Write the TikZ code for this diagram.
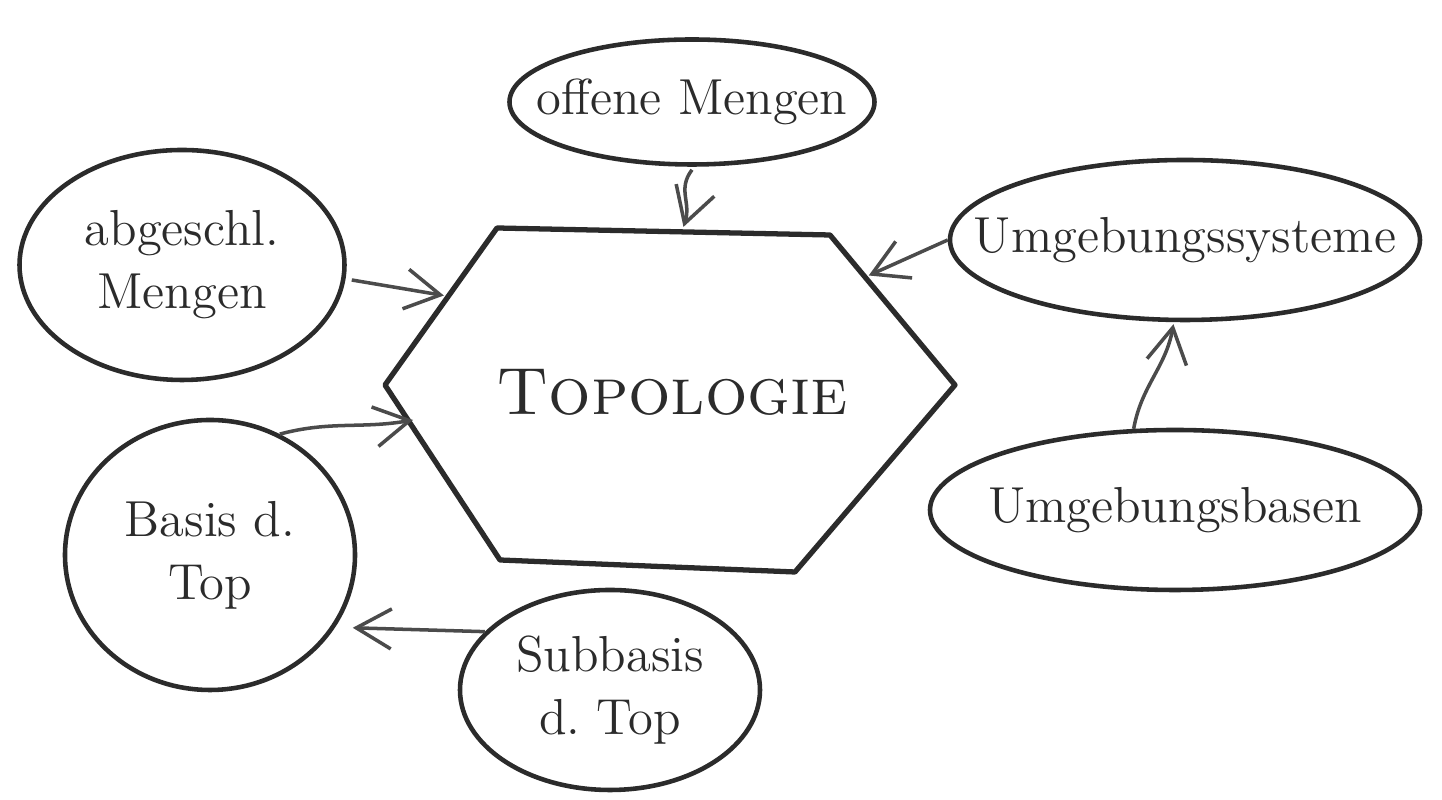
\documentclass[tikz,border=0pt]{standalone}
\usepackage{xcolor}
\usepackage{tikz}
\usetikzlibrary{arrows.meta, calc, shapes.geometric}
\definecolor{ink}{HTML}{2B2B2B}
\definecolor{paper}{HTML}{FFFFFF}
%% keep the ellipse size from the style, not from the text
\newcommand{\etxt}[1]{\makebox[0pt][c]{#1}}

\begin{document}
\begin{tikzpicture}[
  ebox/.style = {draw=ink, ellipse, line width=1.3pt, inner sep=0pt, align=center, font=\Large, text=ink},
  arr/.style  = {-{Straight Barb[length=3.5mm,width=4mm,line width=1pt]}, line width=1pt, color=ink!85},
  hexline/.style = {draw=ink, line width=1.5pt, line join=round},
]
\useasboundingbox[fill=paper] (0,0) rectangle (14.42,8.00);
%%--- central hexagon ---
\coordinate (hTL) at (4.97,5.72);
\coordinate (hTR) at (8.30,5.65);
\coordinate (hR)  at (9.55,4.15);
\coordinate (hBR) at (7.95,2.28);
\coordinate (hBL) at (5.00,2.40);
\coordinate (hL)  at (3.85,4.15);
\draw[hexline] (hTL)--(hTR)--(hR)--(hBR)--(hBL)--(hL)--cycle;
\node[font=\fontsize{19}{23}\selectfont, text=ink] (topo) at (6.72,4.08) {\textsc{Topologie}};
%% entry points on the hexagon edges
\coordinate (hinT)  at ($(hTL)!0.56!(hTR)$);
\coordinate (hinUL) at ($(hL)!0.57!(hTL)$);
\coordinate (hinUR) at ($(hTR)!0.27!(hR)$);
\coordinate (hinLL) at ($(hL)!0.20!(hBL)$);
%%--- surrounding notions ---
\node[ebox, minimum width=3.65cm, minimum height=1.25cm] (om) at (6.92,6.98) {\etxt{offene Mengen}};
\node[ebox, minimum width=3.25cm, minimum height=2.30cm] (ag) at (1.82,5.35) {abgeschl.\\Mengen};
\node[ebox, minimum width=4.70cm, minimum height=1.60cm] (us) at (11.85,5.60) {\etxt{Umgebungssysteme}};
\node[ebox, minimum width=4.90cm, minimum height=1.60cm] (ub) at (11.75,2.90) {\etxt{Umgebungsbasen}};
\node[ebox, minimum width=2.90cm, minimum height=2.70cm] (bt) at (2.10,2.45) {Basis d.\\Top};
\node[ebox, minimum width=3.00cm, minimum height=2.00cm] (sb) at (6.10,1.10) {Subbasis\\d.\ Top};
%%--- arrows ---
\draw[arr] ($(om.south)+(0,-0.03)$) .. controls +(-0.15,-0.2) and +(0.08,0.25) .. ($(hinT)+(0,0.05)$);
\draw[arr] ($(ag.east)+(0.05,-0.15)$) -- ($(hinUL)+(-0.05,0)$);
\draw[arr] (us.west) -- ($(hinUR)+(0.05,0)$);
\draw[arr] (ub.117) to[out=80,in=-100] ($(us.262)+(0,-0.02)$);
\draw[arr] (bt.60) to[out=15,in=190] ($(hinLL)+(0.05,0)$);
\draw[arr, shorten >=5pt] (sb.155) -- (bt.-30);
\end{tikzpicture}
\end{document}
